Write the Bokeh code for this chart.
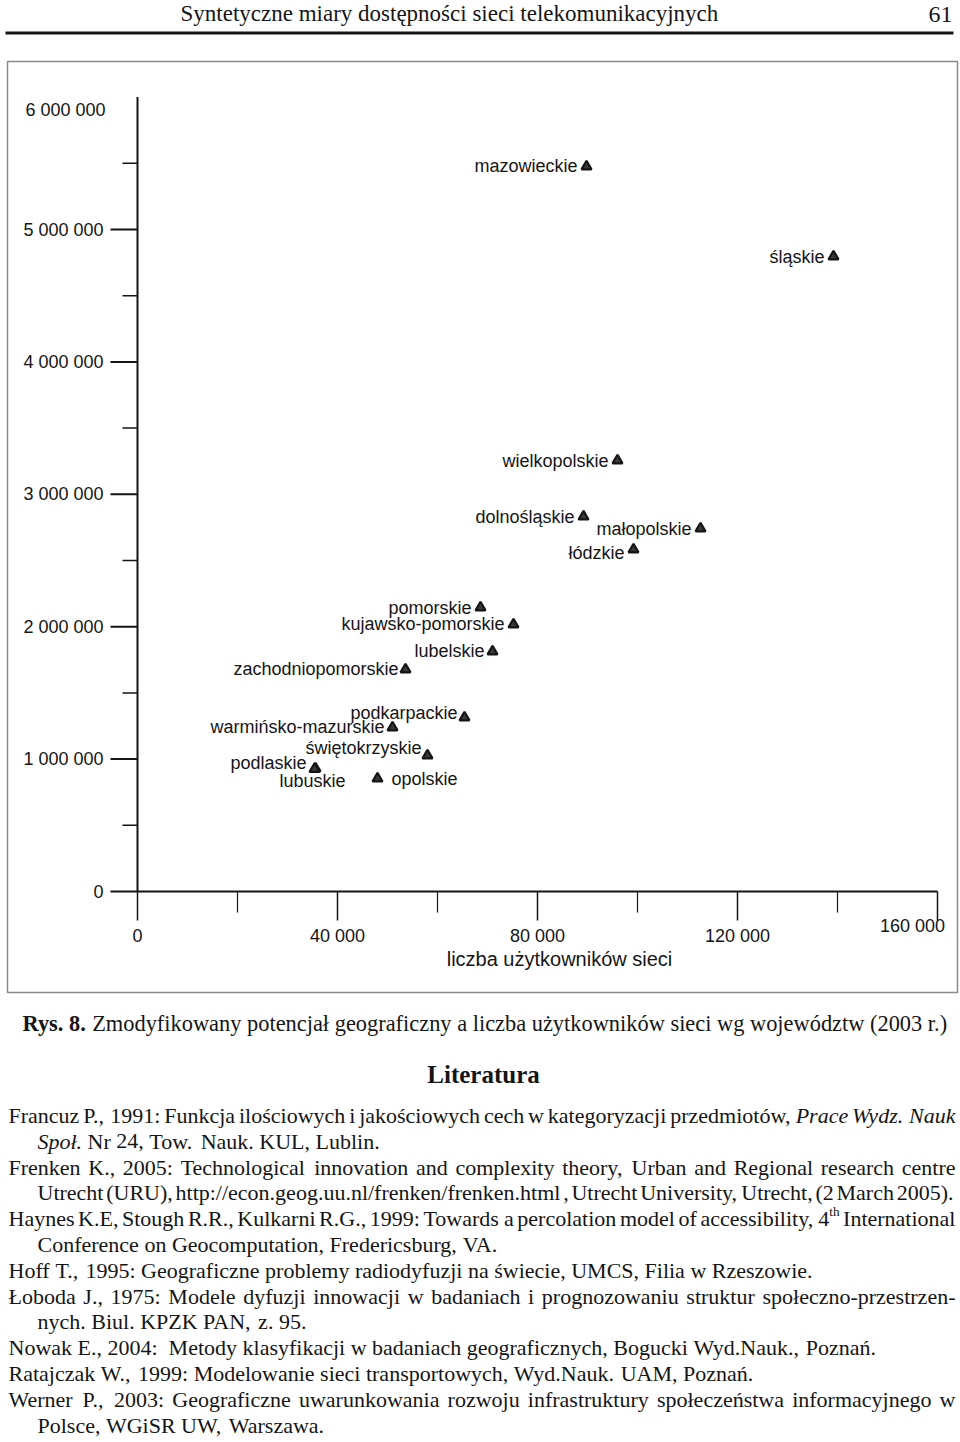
import math
from bokeh.plotting import figure
from bokeh.models import Range1d, ColumnDataSource
from bokeh.embed import file_html
from bokeh.resources import INLINE
from bokeh.core.properties import value

# ---------------- chart data ----------------
regions = ["mazowieckie", "śląskie", "wielkopolskie", "dolnośląskie", "małopolskie",
           "łódzkie", "pomorskie", "kujawsko-pomorskie", "lubelskie", "zachodniopomorskie",
           "podkarpackie", "warmińsko-mazurskie", "świętokrzyskie", "podlaskie", "lubuskie",
           "opolskie"]
users = [89800, 139200, 96000, 89200, 112600,
         99200, 68600, 75200, 71000, 53600,
         65400, 51000, 58000, 35600, 35400,
         48000]
potential = [5476000, 4796000, 3255000, 2832000, 2742000,
             2583000, 2145000, 2017000, 1813000, 1677000,
             1314000, 1239000, 1027000, 929000, 925000,
             853000]

y_major = [0, 1000000, 2000000, 3000000, 4000000, 5000000, 6000000]
y_major_labels = ["0", "1 000 000", "2 000 000", "3 000 000", "4 000 000", "5 000 000", "6 000 000"]
y_minor = [500000, 1500000, 2500000, 3500000, 4500000, 5500000]
x_major = [0, 40000, 80000, 120000, 160000]
x_major_labels = ["0", "40 000", "80 000", "120 000", "160 000"]
x_minor = [20000, 60000, 100000, 140000]
x_title = "liczba użytkowników sieci"

# ---------------- page text ----------------
header_title = "Syntetyczne miary dostępności sieci telekomunikacyjnych"
page_number = "61"
caption_bold = "Rys. 8."
caption_text = "Zmodyfikowany potencjał geograficzny a liczba użytkowników sieci wg województw (2003 r.)"
section_title = "Literatura"
reference_lines = [
    "Francuz P., 1991: Funkcja ilościowych i jakościowych cech w kategoryzacji przedmiotów, *Prace* *Wydz.* *Nauk*",
    "*Społ.* Nr 24, Tow. Nauk. KUL, Lublin.",
    "Frenken K., 2005: Technological innovation and complexity theory, Urban and Regional research centre",
    "Utrecht (URU), http://econ.geog.uu.nl/frenken/frenken.html , Utrecht University, Utrecht, (2 March 2005).",
    "Haynes K.E, Stough R.R., Kulkarni R.G., 1999: Towards a percolation model of accessibility, 4^th International",
    "Conference on Geocomputation, Fredericsburg, VA.",
    "Hoff T., 1995: Geograficzne problemy radiodyfuzji na świecie, UMCS, Filia w Rzeszowie.",
    "Łoboda J., 1975: Modele dyfuzji innowacji w badaniach i prognozowaniu struktur społeczno-przestrzen-",
    "nych. Biul. KPZK PAN, z. 95.",
    "Nowak E., 2004:  Metody klasyfikacji w badaniach geograficznych, Bogucki Wyd.Nauk., Poznań.",
    "Ratajczak W., 1999: Modelowanie sieci transportowych, Wyd.Nauk. UAM, Poznań.",
    "Werner P., 2003: Geograficzne uwarunkowania rozwoju infrastruktury społeczeństwa informacyjnego w",
    "Polsce, WGiSR UW, Warszawa.",
]
# layout of each reference line: (left x, right x for justification or None)
reference_layout = [(8, 955), (37, None), (8, 955), (37, 953), (8, 955), (37, None), (8, None),
                    (8, 955), (37, None), (8, None), (8, None), (8, 955), (37, None)]

# ---------------- styles / layout ----------------
W, H = 960, 1442
X0_PX, PX_PER_USER = 137.0, 5.0 / 1000.0
Y0_PX, PX_PER_POT = 891.0, 132.4 / 1e6
INK = "#151515"
SANS = value("Liberation Sans")
SERIF = value("Liberation Serif")
BL = -9  # correction applied to alphabetic baselines

label_align = ["right"] * 15 + ["left"]
label_dx = [-9, -9, -9, -9, -9, -9, -9, -9, -8, -7, -7, -8, -6, -9, 31, 14]
label_dy = [0, 0, 0, 0, 1, 3, 0, 0, 0, 0, -5, 0, -8, -6, 12, 0]
ylab_dx = [-34, -34, -34, -34, -34, -34, -32]
ylab_dy = [0, 0, 0, 0, 0, 0, 13]
xlab_dx = [0, 0, 0, 0, -25]
xlab_dy = [44, 44, 44, 44, 34]

p = figure(width=W, height=H, output_backend="svg", toolbar_location=None,
           x_axis_type=None, y_axis_type=None, min_border=0,
           x_range=Range1d(0, W), y_range=Range1d(H, 0))
p.outline_line_color = None
p.background_fill_color = "white"
p.border_fill_color = "white"
p.extra_x_ranges = {"users": Range1d(-X0_PX / PX_PER_USER, (W - X0_PX) / PX_PER_USER)}
p.extra_y_ranges = {"pot": Range1d(-(H - Y0_PX) / PX_PER_POT, Y0_PX / PX_PER_POT)}
C = dict(x_range_name="users", y_range_name="pot")

# ---------------- header ----------------
p.text(x=[180], y=[22 + BL], text=[header_title], text_font=SERIF, text_font_size="23px",
       text_color=INK, text_align="left", text_baseline="alphabetic")
p.text(x=[952], y=[23 + BL], text=[page_number], text_font=SERIF, text_font_size="24px",
       text_color=INK, text_align="right", text_baseline="alphabetic")
p.segment(x0=[5], y0=[32.5], x1=[953], y1=[32.5], line_width=3, line_color=INK)

# chart frame
p.quad(left=[7], right=[957], top=[61], bottom=[992], fill_color=None,
       line_color="#8a8a8a", line_width=1.5)

# ---------------- axes (drawn in data space) ----------------
p.segment(x0=[x_major[0]], y0=[0], x1=[x_major[-1]], y1=[0], line_color=INK, line_width=2, **C)
p.segment(x0=[0], y0=[y_major[0]], x1=[0], y1=[y_major[-1]], line_color=INK, line_width=2, **C)
ytm = [v for v in y_major if v < y_major[-1]]
p.ray(x=[0] * len(ytm), y=ytm, length=27, length_units="screen", angle=math.pi,
      line_color=INK, line_width=2, **C)
p.ray(x=[0] * len(y_minor), y=y_minor, length=15, length_units="screen", angle=math.pi,
      line_color=INK, line_width=1.5, **C)
p.ray(x=x_major, y=[0] * len(x_major), length=29, length_units="screen", angle=-math.pi / 2,
      line_color=INK, line_width=1.5, **C)
p.ray(x=x_minor, y=[0] * len(x_minor), length=21, length_units="screen", angle=-math.pi / 2,
      line_color=INK, line_width=1.2, **C)

ysrc = ColumnDataSource(dict(x=[0] * len(y_major), y=y_major, t=y_major_labels, dx=ylab_dx, dy=ylab_dy))
p.text(x="x", y="y", text="t", x_offset="dx", y_offset="dy", source=ysrc, text_font=SANS,
       text_font_size="18px", text_color=INK, text_align="right", text_baseline="middle", **C)
xsrc = ColumnDataSource(dict(x=x_major, y=[0] * len(x_major), t=x_major_labels, dx=xlab_dx, dy=xlab_dy))
p.text(x="x", y="y", text="t", x_offset="dx", y_offset="dy", source=xsrc, text_font=SANS,
       text_font_size="18px", text_color=INK, text_align="center", text_baseline="middle", **C)
p.text(x=[x_major[2]], y=[0], text=[x_title], x_offset=22, y_offset=67, text_font=SANS,
       text_font_size="20px", text_color=INK, text_align="center", text_baseline="middle", **C)

# ---------------- points and labels ----------------
src = ColumnDataSource(dict(x=users, y=potential, name=regions))
p.scatter(x="x", y="y", source=src, marker="triangle", size=10, fill_color="#3a3a3a",
          line_color=INK, line_width=2.2, **C)
for al in ("right", "left"):
    idx = [i for i in range(len(regions)) if label_align[i] == al]
    s = ColumnDataSource(dict(x=[users[i] for i in idx], y=[potential[i] for i in idx],
                              t=[regions[i] for i in idx], dx=[label_dx[i] for i in idx],
                              dy=[label_dy[i] for i in idx]))
    p.text(x="x", y="y", text="t", x_offset="dx", y_offset="dy", source=s, text_font=SANS,
           text_font_size="18px", text_color=INK, text_align=al, text_baseline="middle", **C)

# ---------------- caption & heading ----------------
TR = {" ": 250, "!": 333, "(": 333, ")": 333, ",": 250, "-": 333, ".": 250, "/": 278, ":": 278,
      ";": 278, "'": 333,
      "A": 722, "B": 667, "C": 667, "D": 722, "E": 611, "F": 556, "G": 722, "H": 722, "I": 333,
      "J": 389, "K": 722, "L": 611, "M": 889, "N": 722, "O": 722, "P": 556, "Q": 722, "R": 667,
      "S": 556, "T": 611, "U": 722, "V": 722, "W": 944, "X": 722, "Y": 722, "Z": 611, "Ł": 611,
      "a": 444, "b": 500, "c": 444, "d": 500, "e": 444, "f": 333, "g": 500, "h": 500, "i": 278,
      "j": 278, "k": 500, "l": 278, "m": 778, "n": 500, "o": 500, "p": 500, "q": 500, "r": 333,
      "s": 389, "t": 278, "u": 500, "v": 500, "w": 722, "x": 500, "y": 500, "z": 444,
      "ą": 444, "ć": 444, "ę": 444, "ł": 278, "ń": 500, "ó": 500, "ś": 389, "ź": 444, "ż": 444}
TI = dict(TR)
TI.update({"P": 611, "W": 833, "N": 667, "S": 500, "r": 389, "a": 500, "y": 444, "z": 389,
           "k": 444, "ł": 278})
TB = dict(TR)
TB.update({"R": 722, "y": 500, "s": 389})


def tw(s, table, fs):
    return sum(table.get(ch, 500) for ch in s) / 1000.0 * fs


cap_fs = 22.4
p.text(x=[22], y=[1032 + BL], text=[caption_bold], text_font=SERIF, text_font_size=f"{cap_fs}px",
       text_font_style="bold", text_color=INK, text_align="left", text_baseline="alphabetic")
p.text(x=[22 + tw(caption_bold + " ", TB, cap_fs)], y=[1032 + BL], text=[caption_text], text_font=SERIF,
       text_font_size=f"{cap_fs}px", text_color=INK, text_align="left", text_baseline="alphabetic")
p.text(x=[483], y=[1083 + BL], text=[section_title], text_font=SERIF, text_font_size="25px",
       text_font_style="bold", text_color=INK, text_align="center", text_baseline="alphabetic")

# ---------------- references (word-level justification) ----------------
FS = 22.0
groups = {"normal": ([], [], []), "italic": ([], [], []), "sup": ([], [], [])}


def parse_word(tok):
    if tok.startswith("*") and tok.endswith("*"):
        return [(tok[1:-1], "italic")]
    if "^" in tok:
        a, b = tok.split("^")
        return [(a, "normal"), (b, "sup")]
    return [(tok, "normal")]


def part_w(part):
    t, st = part
    if st == "italic":
        return tw(t, TI, FS)
    if st == "sup":
        return tw(t, TR, FS * 0.6)
    return tw(t, TR, FS)


space_px = tw(" ", TR, FS)
for i, line in enumerate(reference_lines):
    x0, x1 = reference_layout[i]
    base = 1124 + 25.8 * i + BL
    words, gaps, pending = [], [], 0
    for t in line.split(" "):
        if t == "":
            pending += 1
            continue
        if words:
            gaps.append(1 + pending)
        pending = 0
        words.append(parse_word(t))
    wl = [sum(part_w(pt) for pt in w) for w in words]
    if x1 is not None and len(words) > 1:
        g = (x1 - x0 - sum(wl)) / (len(words) - 1)
        gp = [g] * len(gaps)
    else:
        gp = [k * space_px for k in gaps]
    x = x0
    for j, w in enumerate(words):
        if j:
            x += gp[j - 1]
        for pt in w:
            gx, gy, gt = groups[pt[1]]
            gx.append(x)
            gy.append(base - 7 if pt[1] == "sup" else base)
            gt.append(pt[0])
            x += part_w(pt)

for st, (gx, gy, gt) in groups.items():
    if not gt:
        continue
    p.text(x=gx, y=gy, text=gt, text_font=SERIF,
           text_font_size=f"{FS * 0.6:.1f}px" if st == "sup" else f"{FS}px",
           text_font_style="italic" if st == "italic" else "normal",
           text_color=INK, text_align="left", text_baseline="alphabetic")

open("out.html", "w").write(file_html(p, INLINE))
